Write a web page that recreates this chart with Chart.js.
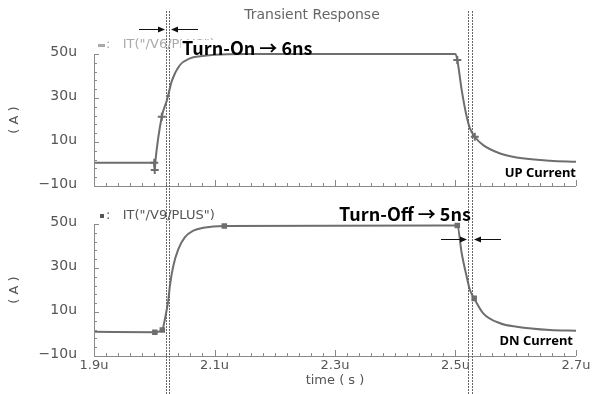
<!DOCTYPE html>
<html>
<head>
<meta charset="utf-8">
<script src="https://cdn.jsdelivr.net/npm/chart.js@4.4.1/dist/chart.umd.min.js"></script>
<style>
html, body { margin: 0; padding: 0; background: #fff; }
#wrap { width: 600px; height: 394px; }
canvas { display: block; }
</style>
</head>
<body>
<div id="wrap">
  <canvas id="upChart" width="600" height="200"></canvas>
  <canvas id="dnChart" width="600" height="194"></canvas>
</div>
<script>
// --- datos (tiempo en us, corriente en uA)
const upTime = [1.90, 2.000, 2.0008, 2.002, 2.0125, 2.021, 2.0295, 2.0427, 2.0593, 2.076, 2.100, 2.150,
                2.500, 2.503, 2.5103, 2.5186, 2.524, 2.532, 2.546, 2.574, 2.6015, 2.657, 2.700];
const upCur  = [0.6, 0.6, -2.7, 1.5, 21.5, 29, 38, 45, 48, 49, 49.7, 50,
                50, 47.3, 33.6, 21.5, 16.2, 12.4, 8.6, 4.8, 3.0, 1.5, 1.0];
const upMarkT = [2.000, 2.0008, 2.0125, 2.503, 2.532];
const upMarkV = [0.6, -2.7, 21.5, 47.3, 12.4];

const dnTime = [1.90, 2.000, 2.0134, 2.016, 2.020, 2.0234, 2.026, 2.0317, 2.040, 2.051, 2.065, 2.0815, 2.1163,
                2.500, 2.503, 2.5103, 2.5186, 2.524, 2.531, 2.546, 2.574, 2.6015, 2.657, 2.700];
const dnCur  = [1.0, 0.8, 1.8, 4.5, 10, 15.5, 22, 31, 38.6, 44, 47, 48.3, 49.1,
                49.3, 49.3, 36.7, 26.0, 20.0, 16.2, 9.4, 4.9, 3.3, 1.8, 1.5];
const dnMarkT = [2.001, 2.0134, 2.1163, 2.503, 2.531];
const dnMarkV = [0.8, 1.8, 49.1, 49.3, 16.2];

// cursores verticales (us)
const cursorT = [2.0187, 2.0245, 2.5212, 2.5278];

// ticks
const xTickVals = [1.9, 2.1, 2.3, 2.5, 2.7];
const xTickLabels = ['1.9u', '2.1u', '2.3u', '2.5u', '2.7u'];
const yTickVals = [-10, 10, 30, 50];
const yTickLabels = ['\u221210u', '10u', '30u', '50u'];

const LINE = '#6e6e6e';
const AXIS = '#8a8a8a';
const TXT = '#555';
const MONO = '"DejaVu Sans", sans-serif';
const BOLD = 'bold 18px "Noto Sans CJK KR", "Noto Sans", sans-serif';

// 1. PLUGIN D'EIXOS (ticks cap endins, estil Cadence)
const simAxes = {
  id: 'simAxes',
  afterDraw(chart, args, opts) {
    const { ctx, chartArea: a, scales: { x, y } } = chart;
    ctx.save();
    ctx.strokeStyle = AXIS;
    ctx.lineWidth = 1;
    ctx.beginPath();
    ctx.moveTo(a.left + 0.5, a.top);
    ctx.lineTo(a.left + 0.5, a.bottom + 0.5);
    ctx.lineTo(a.right, a.bottom + 0.5);
    // x ticks: menors cada 0.02u, majors cada 0.2u
    for (let i = 0; i <= 40; i++) {
      const px = Math.round(x.getPixelForValue(1.9 + i * 0.02)) + 0.5;
      const len = i % 10 === 0 ? 6 : 3;
      ctx.moveTo(px, a.bottom);
      ctx.lineTo(px, a.bottom - len);
    }
    // y ticks: menors cada 4u
    for (let i = 0; i <= 15; i++) {
      const v = -10 + i * 4;
      const py = Math.round(y.getPixelForValue(v)) + 0.5;
      const len = (v + 10) % 20 === 0 ? 5 : 3;
      ctx.moveTo(a.left, py);
      ctx.lineTo(a.left + len, py);
    }
    ctx.stroke();

    ctx.fillStyle = TXT;
    ctx.font = '14px ' + MONO;
    ctx.textAlign = 'right';
    ctx.textBaseline = 'middle';
    yTickVals.forEach((v, i) => {
      ctx.fillText(yTickLabels[i], 77, y.getPixelForValue(v) - 2);
    });
    ctx.font = '13px ' + MONO;
    if (opts.xLabels) {
      ctx.textAlign = 'center';
      xTickVals.forEach((v, i) => {
        ctx.fillText(xTickLabels[i], x.getPixelForValue(v), a.bottom + 10);
      });
      ctx.fillText('time ( s )', (a.left + a.right) / 2, a.bottom + 25);
    }
    // ( A )
    ctx.save();
    ctx.translate(15, (a.top + a.bottom) / 2);
    ctx.rotate(-Math.PI / 2);
    ctx.textAlign = 'center';
    ctx.fillText('( A )', 0, 0);
    ctx.restore();

    // cursors puntejats
    ctx.strokeStyle = '#666';
    ctx.setLineDash([2, 1]);
    ctx.beginPath();
    cursorT.forEach(t => {
      const px = Math.round(x.getPixelForValue(t)) + 0.5;
      ctx.moveTo(px, opts.cursorTop);
      ctx.lineTo(px, chart.height);
    });
    ctx.stroke();
    ctx.setLineDash([]);

    // fletxes de mesura
    const [c0, c1] = opts.pair.map(i => Math.round(x.getPixelForValue(cursorT[i])));
    const ay = opts.arrowY + 0.5;
    drawArrow(ctx, c0 - 27, c0 - 1, ay);
    drawArrow(ctx, c1 + 29, c1 + 2, ay);
    ctx.restore();
  }
};

function drawArrow(ctx, from, to, yy) {
  const dir = Math.sign(to - from);
  ctx.strokeStyle = '#111';
  ctx.fillStyle = '#111';
  ctx.beginPath();
  ctx.moveTo(from, yy);
  ctx.lineTo(to - dir * 5, yy);
  ctx.stroke();
  ctx.beginPath();
  ctx.moveTo(to, yy);
  ctx.lineTo(to - dir * 7, yy - 3);
  ctx.lineTo(to - dir * 7, yy + 3);
  ctx.closePath();
  ctx.fill();
}

// textos propis de cada gràfic
const upNotes = {
  id: 'upNotes',
  afterDraw(chart) {
    const ctx = chart.ctx;
    ctx.save();
    ctx.fillStyle = '#666';
    ctx.font = '14px ' + MONO;
    ctx.textAlign = 'center';
    ctx.textBaseline = 'middle';
    ctx.fillText('Transient Response', 312, 15);
    ctx.fillStyle = '#aaa';
    ctx.fillRect(98, 44, 7, 3);
    ctx.font = '13px ' + MONO;
    ctx.textAlign = 'left';
    ctx.fillText(':   IT("/V6/PLUS")', 106, 45);
    ctx.fillStyle = '#fff';
    ctx.fillRect(181, 40, 133, 13);
    ctx.fillStyle = '#000';
    ctx.font = BOLD;
    ctx.textBaseline = 'alphabetic';
    ctx.fillText('Turn-On \u2192 6ns', 182, 55);
    ctx.font = 'bold 13px "Noto Sans", sans-serif';
    ctx.textAlign = 'right';
    ctx.fillText('UP Current', 576, 177);
    ctx.restore();
  }
};

const dnNotes = {
  id: 'dnNotes',
  afterDraw(chart) {
    const ctx = chart.ctx;
    ctx.save();
    ctx.fillStyle = '#555';
    ctx.fillRect(100, 14, 4, 4);
    ctx.font = '13px ' + MONO;
    ctx.textAlign = 'left';
    ctx.textBaseline = 'middle';
    ctx.fillText(':   IT("/V9/PLUS")', 106, 16);
    ctx.fillStyle = '#000';
    ctx.font = BOLD;
    ctx.textBaseline = 'alphabetic';
    ctx.fillText('Turn-Off \u2192 5ns', 339, 21);
    ctx.font = 'bold 13px "Noto Sans", sans-serif';
    ctx.textAlign = 'right';
    ctx.fillText('DN Current', 573, 145);
    ctx.restore();
  }
};

// 2. CONSTRUCCIÓ DELS GRÀFICS
function makeChart(id, times, vals, markT, markV, marker, padTop, padBottom, axOpts, notes) {
  const ctx = document.getElementById(id).getContext('2d');
  return new Chart(ctx, {
    type: 'scatter',
    data: {
      datasets: [
        {
          data: times.map((t, i) => ({ x: t, y: vals[i] })),
          showLine: true,
          borderColor: LINE,
          borderWidth: 2,
          pointRadius: 0,
          cubicInterpolationMode: 'monotone',
          clip: 6
        },
        {
          data: markT.map((t, i) => ({ x: t, y: markV[i] })),
          showLine: false,
          pointStyle: marker,
          pointRadius: marker === 'cross' ? 4 : 2.5,
          borderWidth: 2,
          borderColor: LINE,
          backgroundColor: LINE,
          clip: 6
        }
      ]
    },
    options: {
      responsive: false,
      animation: false,
      layout: { padding: { left: 94, right: 24, top: padTop, bottom: padBottom } },
      plugins: { legend: { display: false }, tooltip: { enabled: false }, simAxes: axOpts },
      scales: {
        x: { type: 'linear', min: 1.9, max: 2.7, display: false },
        y: { type: 'linear', min: -10, max: 50, display: false }
      }
    },
    plugins: [simAxes, notes]
  });
}

makeChart('upChart', upTime, upCur, upMarkT, upMarkV, 'cross', 54, 14,
  { xLabels: false, cursorTop: 11, pair: [0, 1], arrowY: 29 }, upNotes);
makeChart('dnChart', dnTime, dnCur, dnMarkT, dnMarkV, 'rect', 24, 38,
  { xLabels: true, cursorTop: 0, pair: [2, 3], arrowY: 39 }, dnNotes);
</script>
</body>
</html>
